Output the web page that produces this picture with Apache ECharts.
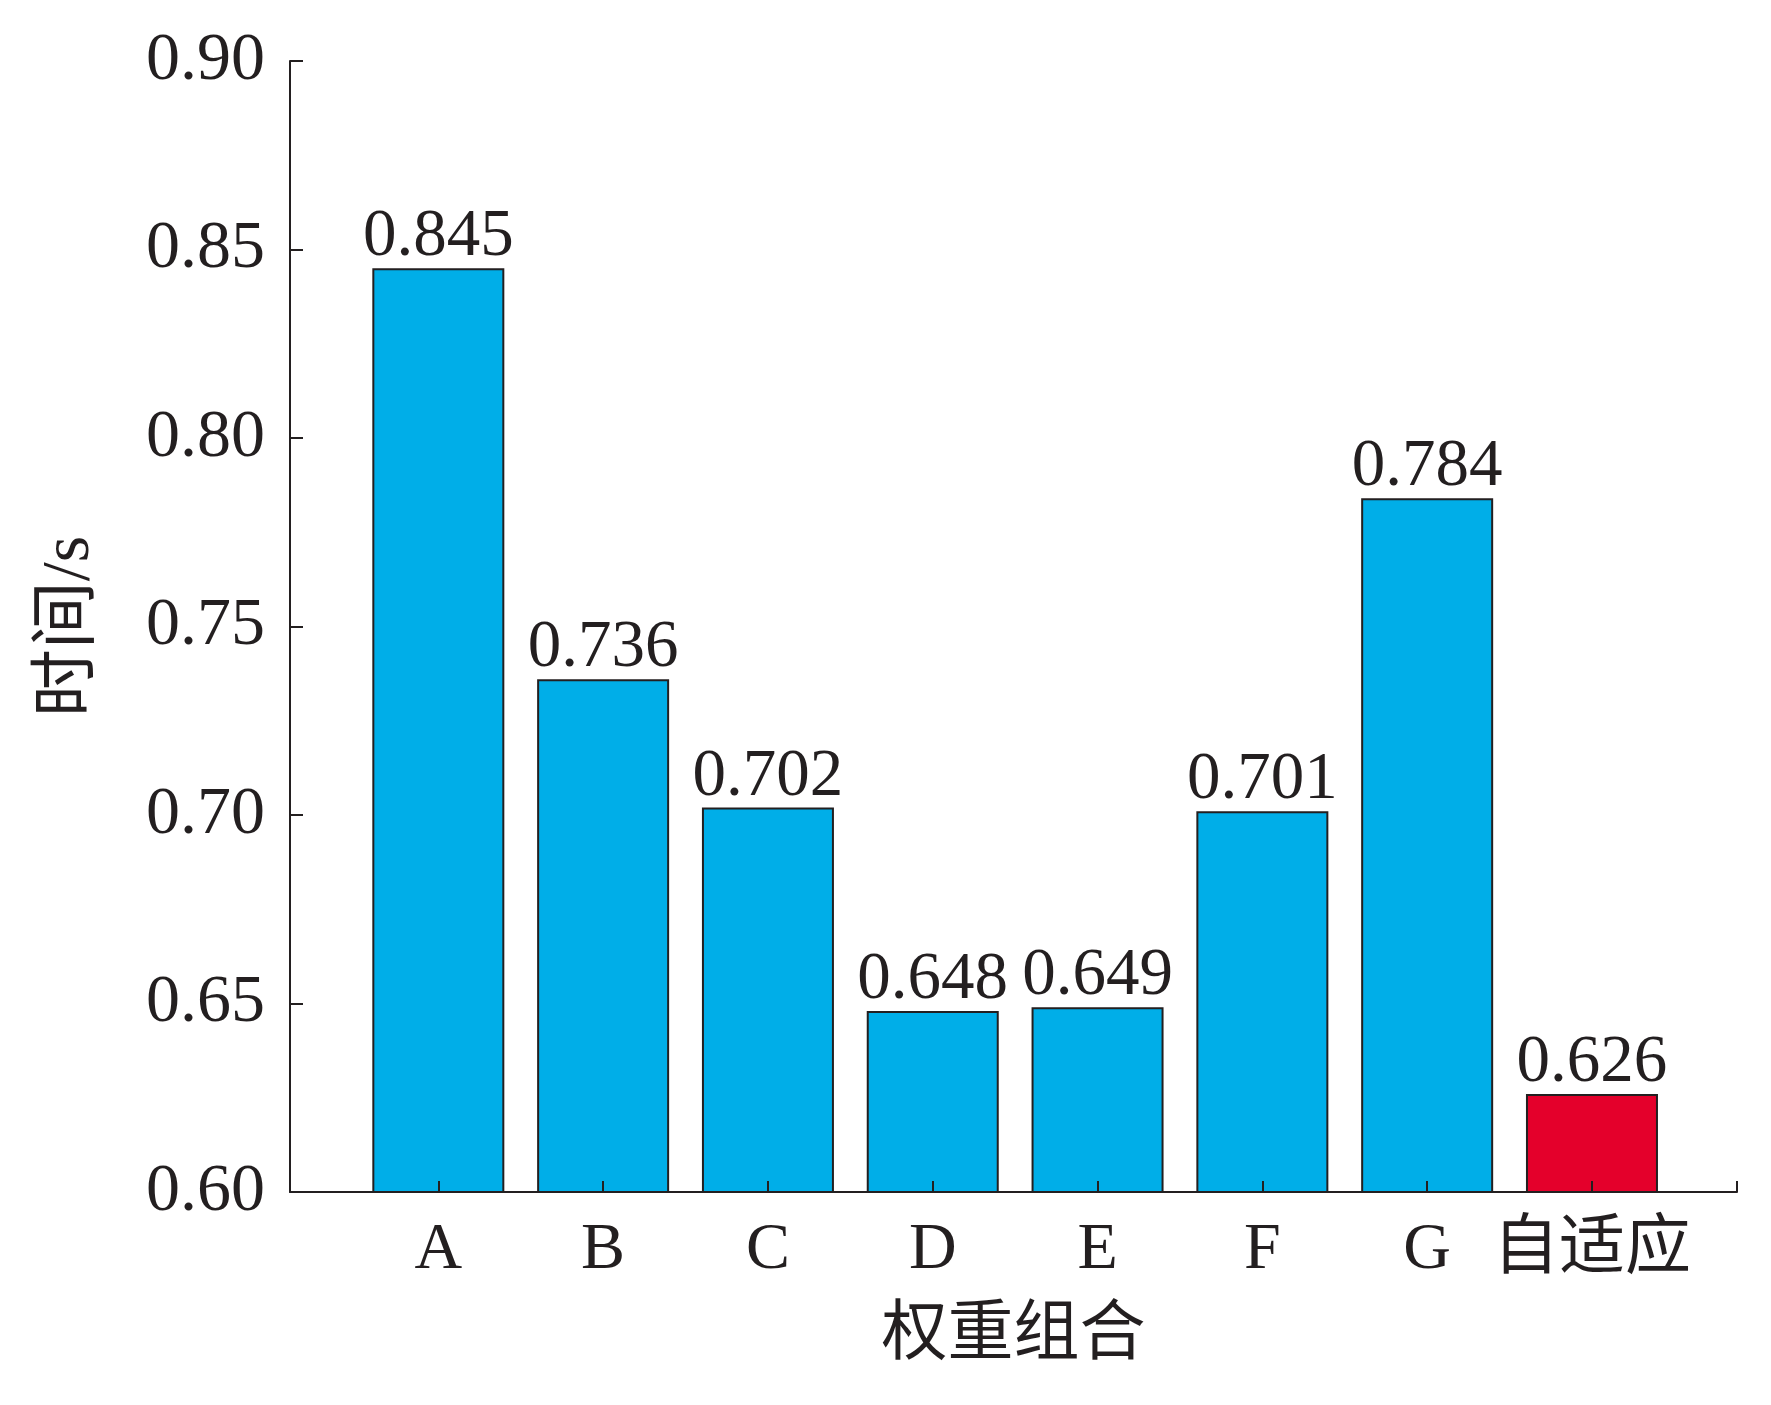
<!DOCTYPE html>
<html>
<head>
<meta charset="utf-8">
<script src="https://cdn.jsdelivr.net/npm/echarts@6/dist/echarts.min.js"></script>
<style>
html,body{margin:0;padding:0;background:#fff;}
#chart{width:1771px;height:1405px;}
</style>
</head>
<body>
<div id="chart"></div>
<script>
const categories = ['A', 'B', 'C', 'D', 'E', 'F', 'G', '自适应'];
const times = [0.845, 0.736, 0.702, 0.648, 0.649, 0.701, 0.784, 0.626];
const yTicks = [0.60, 0.65, 0.70, 0.75, 0.80, 0.85, 0.90];
const xAxisName = '权重组合';
const yAxisName = '时间/s';

const FONT = "'Liberation Serif', 'Times New Roman', 'Noto Sans CJK SC', serif";
const INK = '#231f20';
const BLUE = '#00aee8';
const RED = '#e4002b';
const highlightIndex = categories.length - 1;

const xMin = -0.9, xMax = categories.length - 1 + 0.88;
const idx = categories.map((_, i) => i);

const chart = echarts.init(document.getElementById('chart'), null, {renderer: 'canvas'});
chart.setOption({
  backgroundColor: '#ffffff',
  animation: false,
  grid: {left: 290, right: 34, top: 61, bottom: 213, containLabel: false, outerBoundsMode: 'none'},
  xAxis: {
    type: 'value',
    min: xMin,
    max: xMax,
    z: 10,
    name: xAxisName,
    nameLocation: 'middle',
    nameGap: 112,
    nameTextStyle: {fontFamily: FONT, fontSize: 66, color: INK, verticalAlign: 'top'},
    axisLine: {show: true, onZero: false, lineStyle: {color: INK, width: 2}},
    axisTick: {show: true, inside: true, length: 11, lineStyle: {color: INK, width: 2}, customValues: idx.concat([xMax])},
    axisLabel: {
      customValues: idx,
      margin: 26,
      fontFamily: FONT, fontSize: 66, color: INK,
      formatter: v => categories[Math.round(v)] || ''
    },
    splitLine: {show: false}
  },
  yAxis: {
    type: 'value',
    min: yTicks[0],
    max: yTicks[yTicks.length - 1],
    interval: 0.05,
    name: yAxisName,
    nameLocation: 'middle',
    nameGap: 186,
    nameRotate: 90,
    nameTextStyle: {fontFamily: FONT, fontSize: 68, color: INK},
    axisLine: {show: true, onZero: false, lineStyle: {color: INK, width: 2}},
    axisTick: {show: true, inside: true, length: 13, lineStyle: {color: INK, width: 2}},
    axisLabel: {margin: 25, fontFamily: FONT, fontSize: 68, color: INK, formatter: v => v.toFixed(2)},
    splitLine: {show: false}
  },
  series: [{
    type: 'bar',
    barWidth: 132,
    data: times.map((v, i) => ({
      value: [i, v],
      itemStyle: {color: i === highlightIndex ? RED : BLUE}
    })),
    itemStyle: {borderColor: INK, borderWidth: 2},
    label: {
      show: true,
      position: 'top',
      distance: -3,
      fontFamily: FONT,
      fontSize: 67,
      color: INK,
      formatter: p => p.value[1].toFixed(3)
    }
  }]
});
</script>
</body>
</html>
